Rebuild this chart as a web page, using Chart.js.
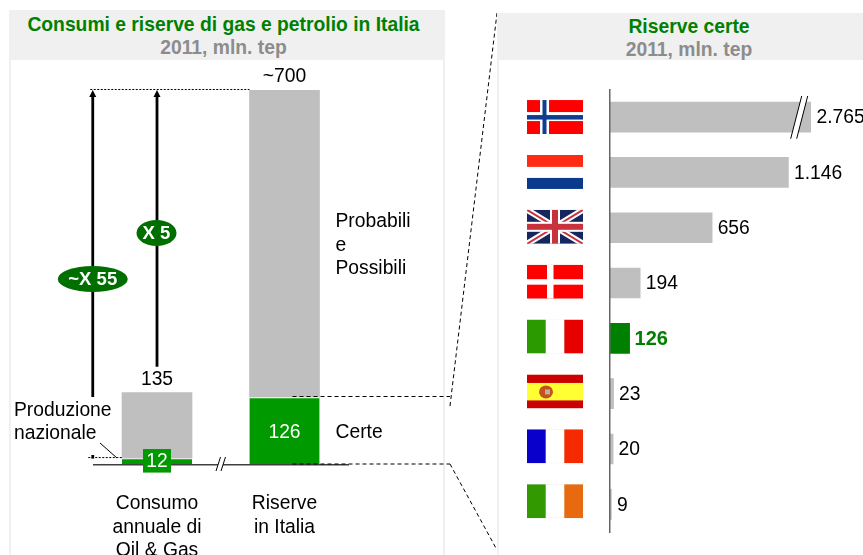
<!DOCTYPE html>
<html>
<head>
<meta charset="utf-8">
<title>Consumi e riserve</title>
<script src="https://cdn.jsdelivr.net/npm/chart.js@4"></script>
<style>
html, body { margin: 0; padding: 0; background: #fff; overflow: hidden; }
body { width: 863px; height: 555px; position: relative; font-family: "Liberation Sans", Arial, sans-serif; }
.panel { position: absolute; box-sizing: border-box; border: solid #f0f0f0; border-width: 0 2px; bottom: 0; }
.head { position: absolute; background: #f0f0f0; text-align: center; font-weight: bold; }
.head div { position: absolute; left: 0; right: 0; white-space: nowrap; }
.t1 { color: #008000; font-size: 19.3px; line-height: 24px; }
.t2 { color: #8c8c8c; font-size: 19.3px; line-height: 24px; }
canvas { position: absolute; top: 0; }
</style>
</head>
<body>
<div class="panel" style="left:9px;width:436px;top:10px"></div>
<div class="head" style="left:9px;width:436px;top:10px;height:50px">
  <div class="t1" style="top:3px;left:-7px">Consumi e riserve di gas e petrolio in Italia</div>
  <div class="t2" style="top:26px;left:-7px">2011, mln. tep</div>
</div>
<div class="panel" style="left:497px;width:386px;top:13px"></div>
<div class="head" style="left:497px;width:386px;top:13px;height:47px">
  <div class="t1" style="top:2px;left:-2px">Riserve certe</div>
  <div class="t2" style="top:25px;left:-2px">2011, mln. tep</div>
</div>
<canvas id="italia" width="497" height="555" style="left:0"></canvas>
<canvas id="paesi" width="366" height="555" style="left:497px"></canvas>
<script>
const FONT = '"Liberation Sans", Arial, sans-serif';

// Grafico sinistra
const categorie = [['Consumo', 'annuale di', 'Oil & Gas'], ['Riserve', 'in Italia']];
const valoriVerde = [12, 126];
const valoriGrigio = [123, 574];
const totali = ['135', '~700'];

// Grafico destra
const paesi = ['Norvegia', 'Paesi Bassi', 'Regno Unito', 'Danimarca', 'Italia', 'Spagna', 'Francia', 'Irlanda'];
const riserve = [2765, 1146, 656, 194, 126, 23, 20, 9];
const coloriRiserve = ['#bfbfbf', '#bfbfbf', '#bfbfbf', '#bfbfbf', '#008000', '#bfbfbf', '#bfbfbf', '#bfbfbf'];
const maxAsseRiserve = 1291; // asse spezzato

function testo(ctx, str, x, y, opt) {
    opt = opt || {};
    ctx.font = (opt.bold ? 'bold ' : '') + (opt.size || 19.3) + 'px ' + FONT;
    ctx.fillStyle = opt.color || '#000';
    ctx.textAlign = opt.align || 'center';
    ctx.textBaseline = 'middle';
    ctx.fillText(str, x, y + 1);
}

function linea(ctx, x1, y1, x2, y2, width, dash, color) {
    ctx.save();
    ctx.beginPath();
    ctx.setLineDash(dash || []);
    ctx.lineWidth = width;
    ctx.strokeStyle = color || '#000';
    ctx.moveTo(x1, y1);
    ctx.lineTo(x2, y2);
    ctx.stroke();
    ctx.restore();
}

function freccia(ctx, x, yTop, yBottom) {
    linea(ctx, x, yTop + 5, x, yBottom, 2.8);
    ctx.beginPath();
    ctx.fillStyle = '#000';
    ctx.moveTo(x, yTop);
    ctx.lineTo(x + 3.5, yTop + 7);
    ctx.lineTo(x - 3.5, yTop + 7);
    ctx.fill();
}

function ellisse(ctx, x, y, rx, ry, str) {
    ctx.beginPath();
    ctx.fillStyle = '#006f00';
    ctx.ellipse(x, y, rx, ry, 0, 0, Math.PI * 2);
    ctx.fill();
    testo(ctx, str, x, y - 0.5, { bold: true, color: '#fff', size: 18.5 });
}

function spezzato(ctx, x1, y1, x2, y2, gap, width) {
    ctx.beginPath();
    ctx.fillStyle = '#fff';
    ctx.moveTo(x1, y1);
    ctx.lineTo(x2, y2);
    ctx.lineTo(x2 + gap, y2);
    ctx.lineTo(x1 + gap, y1);
    ctx.fill();
    linea(ctx, x1, y1, x2, y2, width);
    linea(ctx, x1 + gap, y1, x2 + gap, y2, width);
}

const noteItalia = {
    id: 'noteItalia',
    afterDraw(chart) {
        const ctx = chart.ctx;
        const x = chart.scales.x;
        const y = chart.scales.y;
        const area = chart.chartArea;
        const x0 = x.getPixelForValue(0);
        const x1 = x.getPixelForValue(1);
        const yTop = y.getPixelForValue(700);
        const yBase = y.getPixelForValue(0);
        const yCerte = y.getPixelForValue(valoriVerde[1]);
        const yProd = y.getPixelForValue(valoriVerde[0]);
        const yCons = y.getPixelForValue(valoriVerde[0] + valoriGrigio[0]);
        const barDx = 35;

        // totali sopra le barre
        testo(ctx, totali[0], x0, yCons - 14);
        testo(ctx, totali[1], x1, yTop - 14);

        // valori dentro le barre
        ctx.fillStyle = '#009900';
        ctx.fillRect(x0 - 14, yProd - 9.5, 28, 23.5);
        testo(ctx, String(valoriVerde[0]), x0, yProd + 2, { color: '#fff' });
        testo(ctx, String(valoriVerde[1]), x1, (yCerte + yBase) / 2, { color: '#fff' });

        // etichette a destra
        testo(ctx, 'Probabili', x1 + barDx + 16, 221, { align: 'left' });
        testo(ctx, 'e', x1 + barDx + 16, 245, { align: 'left' });
        testo(ctx, 'Possibili', x1 + barDx + 16, 268, { align: 'left' });
        testo(ctx, 'Certe', x1 + barDx + 16, (yCerte + yBase) / 2, { align: 'left' });

        // frecce
        linea(ctx, area.left - 3, yTop - 0.5, x1 - barDx, yTop - 0.5, 1, [2, 1.5]);
        freccia(ctx, area.left - 0.5, yTop, 397);
        linea(ctx, area.left - 0.5, 455, area.left - 0.5, yProd, 2.8);
        freccia(ctx, x0, yTop, yCons - 26);
        ellisse(ctx, area.left - 0.5, 279, 35, 13, '~X 55');
        ellisse(ctx, x0 - 0.5, 233, 20, 13, 'X 5');

        // produzione nazionale
        testo(ctx, 'Produzione', 14, 410, { align: 'left' });
        testo(ctx, 'nazionale', 14, 433, { align: 'left' });
        linea(ctx, 100, 443, 117, 458, 1);
        linea(ctx, area.left - 5, yProd - 1, x0 - barDx, yProd - 1, 1, [2, 1.5]);

        // interruzione asse
        spezzato(ctx, 216, 471, 220.5, 457, 5, 1);

        // collegamento al secondo pannello
        const d = [4, 3];
        linea(ctx, x1 + 8, yCerte - 1, 450, yCerte - 1, 1, d);
        linea(ctx, 450, 406, 497, 13, 1, d);
        linea(ctx, x1 + 8, yBase - 1, 450, yBase - 1, 1, d);
        linea(ctx, 450, yBase - 1, 497, 550, 1, d);
    }
};

function bandiera(ctx, i, x, y, w, h) {
    const strisceV = (a, b, c) => {
        ctx.fillStyle = '#e8e8e8'; ctx.fillRect(x, y, w, h);
        ctx.fillStyle = b; ctx.fillRect(x + w / 3, y + 0.5, w / 3, h - 1);
        ctx.fillStyle = a; ctx.fillRect(x, y, w / 3, h);
        ctx.fillStyle = c; ctx.fillRect(x + 2 * w / 3, y, w / 3, h);
    };
    ctx.save();
    ctx.beginPath();
    ctx.rect(x, y, w, h);
    ctx.clip();
    if (i === 0) {
        ctx.fillStyle = '#ff0000'; ctx.fillRect(x, y, w, h);
        ctx.fillStyle = '#fff';
        ctx.fillRect(x + 13, y, 9, h);
        ctx.fillRect(x, y + 12, w, 9);
        ctx.fillStyle = '#0f3d8f';
        ctx.fillRect(x + 15.5, y, 4, h);
        ctx.fillRect(x, y + 15, w, 4.5);
    } else if (i === 1) {
        ctx.fillStyle = '#ff2a14'; ctx.fillRect(x, y, w, 12);
        ctx.fillStyle = '#fff'; ctx.fillRect(x, y + 12, w, 11);
        ctx.fillStyle = '#0a3a8c'; ctx.fillRect(x, y + 23, w, 11);
    } else if (i === 2) {
        ctx.fillStyle = '#14285f'; ctx.fillRect(x, y, w, h);
        linea(ctx, x, y, x + w, y + h, 6, null, '#fff');
        linea(ctx, x + w, y, x, y + h, 6, null, '#fff');
        linea(ctx, x, y, x + w, y + h, 2, null, '#c8323c');
        linea(ctx, x + w, y, x, y + h, 2, null, '#c8323c');
        ctx.fillStyle = '#fff';
        ctx.fillRect(x + 23, y, 10, h);
        ctx.fillRect(x, y + 12, w, 10);
        ctx.fillStyle = '#c8323c';
        ctx.fillRect(x + 25, y, 6, h);
        ctx.fillRect(x, y + 14, w, 6);
    } else if (i === 3) {
        ctx.fillStyle = '#ff0000'; ctx.fillRect(x, y, w, h);
        ctx.fillStyle = '#fff';
        ctx.fillRect(x + 20, y, 6.5, h);
        ctx.fillRect(x, y + 14.5, w, 5.5);
    } else if (i === 4) {
        strisceV('#2b9900', '#fff', '#e60000');
    } else if (i === 5) {
        ctx.fillStyle = '#cc0000'; ctx.fillRect(x, y, w, h);
        ctx.fillStyle = '#ffff33'; ctx.fillRect(x, y + 8.5, w, 17.5);
        ctx.beginPath();
        ctx.fillStyle = '#c8501e';
        ctx.ellipse(x + 19, y + 17.5, 7, 6.5, 0, 0, Math.PI * 2);
        ctx.fill();
        ctx.fillStyle = '#b4b4a0'; ctx.fillRect(x + 18, y + 15, 5, 5);
    } else if (i === 6) {
        strisceV('#0a00cc', '#fff', '#f52a00');
    } else {
        strisceV('#339900', '#fff', '#e86a10');
    }
    ctx.restore();
}

const notePaesi = {
    id: 'notePaesi',
    afterDraw(chart) {
        const ctx = chart.ctx;
        const x = chart.scales.x;
        const y = chart.scales.y;
        riserve.forEach((v, i) => {
            const yc = y.getPixelForValue(i);
            const xEnd = Math.min(x.getPixelForValue(v), chart.chartArea.right);
            const lab = String(v).replace(/\B(?=(\d{3})+$)/g, '.');
            if (i === 4) {
                testo(ctx, lab, xEnd + 5, yc, { align: 'left', bold: true, color: '#008000', size: 20 });
            } else {
                testo(ctx, lab, xEnd + 5.5, yc, { align: 'left' });
            }
            bandiera(ctx, i, 30, yc - 17 - i * 0.45, 56, 34);
        });
        // interruzione barra Norvegia
        spezzato(ctx, 293.7, 138.7, 304.7, 96, 6, 1);
    }
};

const ctxItalia = document.getElementById('italia');
const italia = new Chart(ctxItalia, {
    type: 'bar',
    data: {
        labels: categorie,
        datasets: [{
            label: 'Produzione / Certe',
            data: valoriVerde,
            backgroundColor: '#009900',
            borderColor: '#fff',
            borderWidth: { top: 1 },
            borderSkipped: false,
            barThickness: 70
        }, {
            label: 'Consumo / Probabili e Possibili',
            data: valoriGrigio,
            backgroundColor: '#bfbfbf',
            barThickness: 70
        }]
    },
    options: {
        responsive: false,
        animation: false,
        layout: { padding: { left: 93.25, right: 148.75, top: 90, bottom: 0 } },
        plugins: { legend: { display: false }, tooltip: { enabled: false } },
        scales: {
            x: {
                stacked: true,
                grid: { display: false, drawTicks: false },
                border: { color: '#404040', width: 1.5, z: 1 },
                afterFit: s => { s.height = 90; },
                ticks: {
                    maxRotation: 0,
                    autoSkip: false,
                    padding: 27,
                    color: '#000',
                    font: { family: FONT, size: 19.3, lineHeight: 1.22 }
                }
            },
            y: { stacked: true, display: false, min: 0, max: 700 }
        }
    },
    plugins: [noteItalia]
});

const ctxPaesi = document.getElementById('paesi');
const chartPaesi = new Chart(ctxPaesi, {
    type: 'bar',
    data: {
        labels: paesi,
        datasets: [{
            label: 'Riserve certe',
            data: riserve,
            backgroundColor: coloriRiserve,
            barThickness: 30,
            clip: 0
        }]
    },
    options: {
        indexAxis: 'y',
        responsive: false,
        animation: false,
        layout: { padding: { left: 113, right: 52, top: 89.4, bottom: 23 } },
        plugins: { legend: { display: false }, tooltip: { enabled: false } },
        scales: {
            x: { display: false, min: 0, max: maxAsseRiserve },
            y: {
                grid: { display: false, drawTicks: false },
                ticks: { display: false },
                border: { color: '#666', width: 1.5, z: 1 }
            }
        }
    },
    plugins: [notePaesi]
});
</script>
</body>
</html>
